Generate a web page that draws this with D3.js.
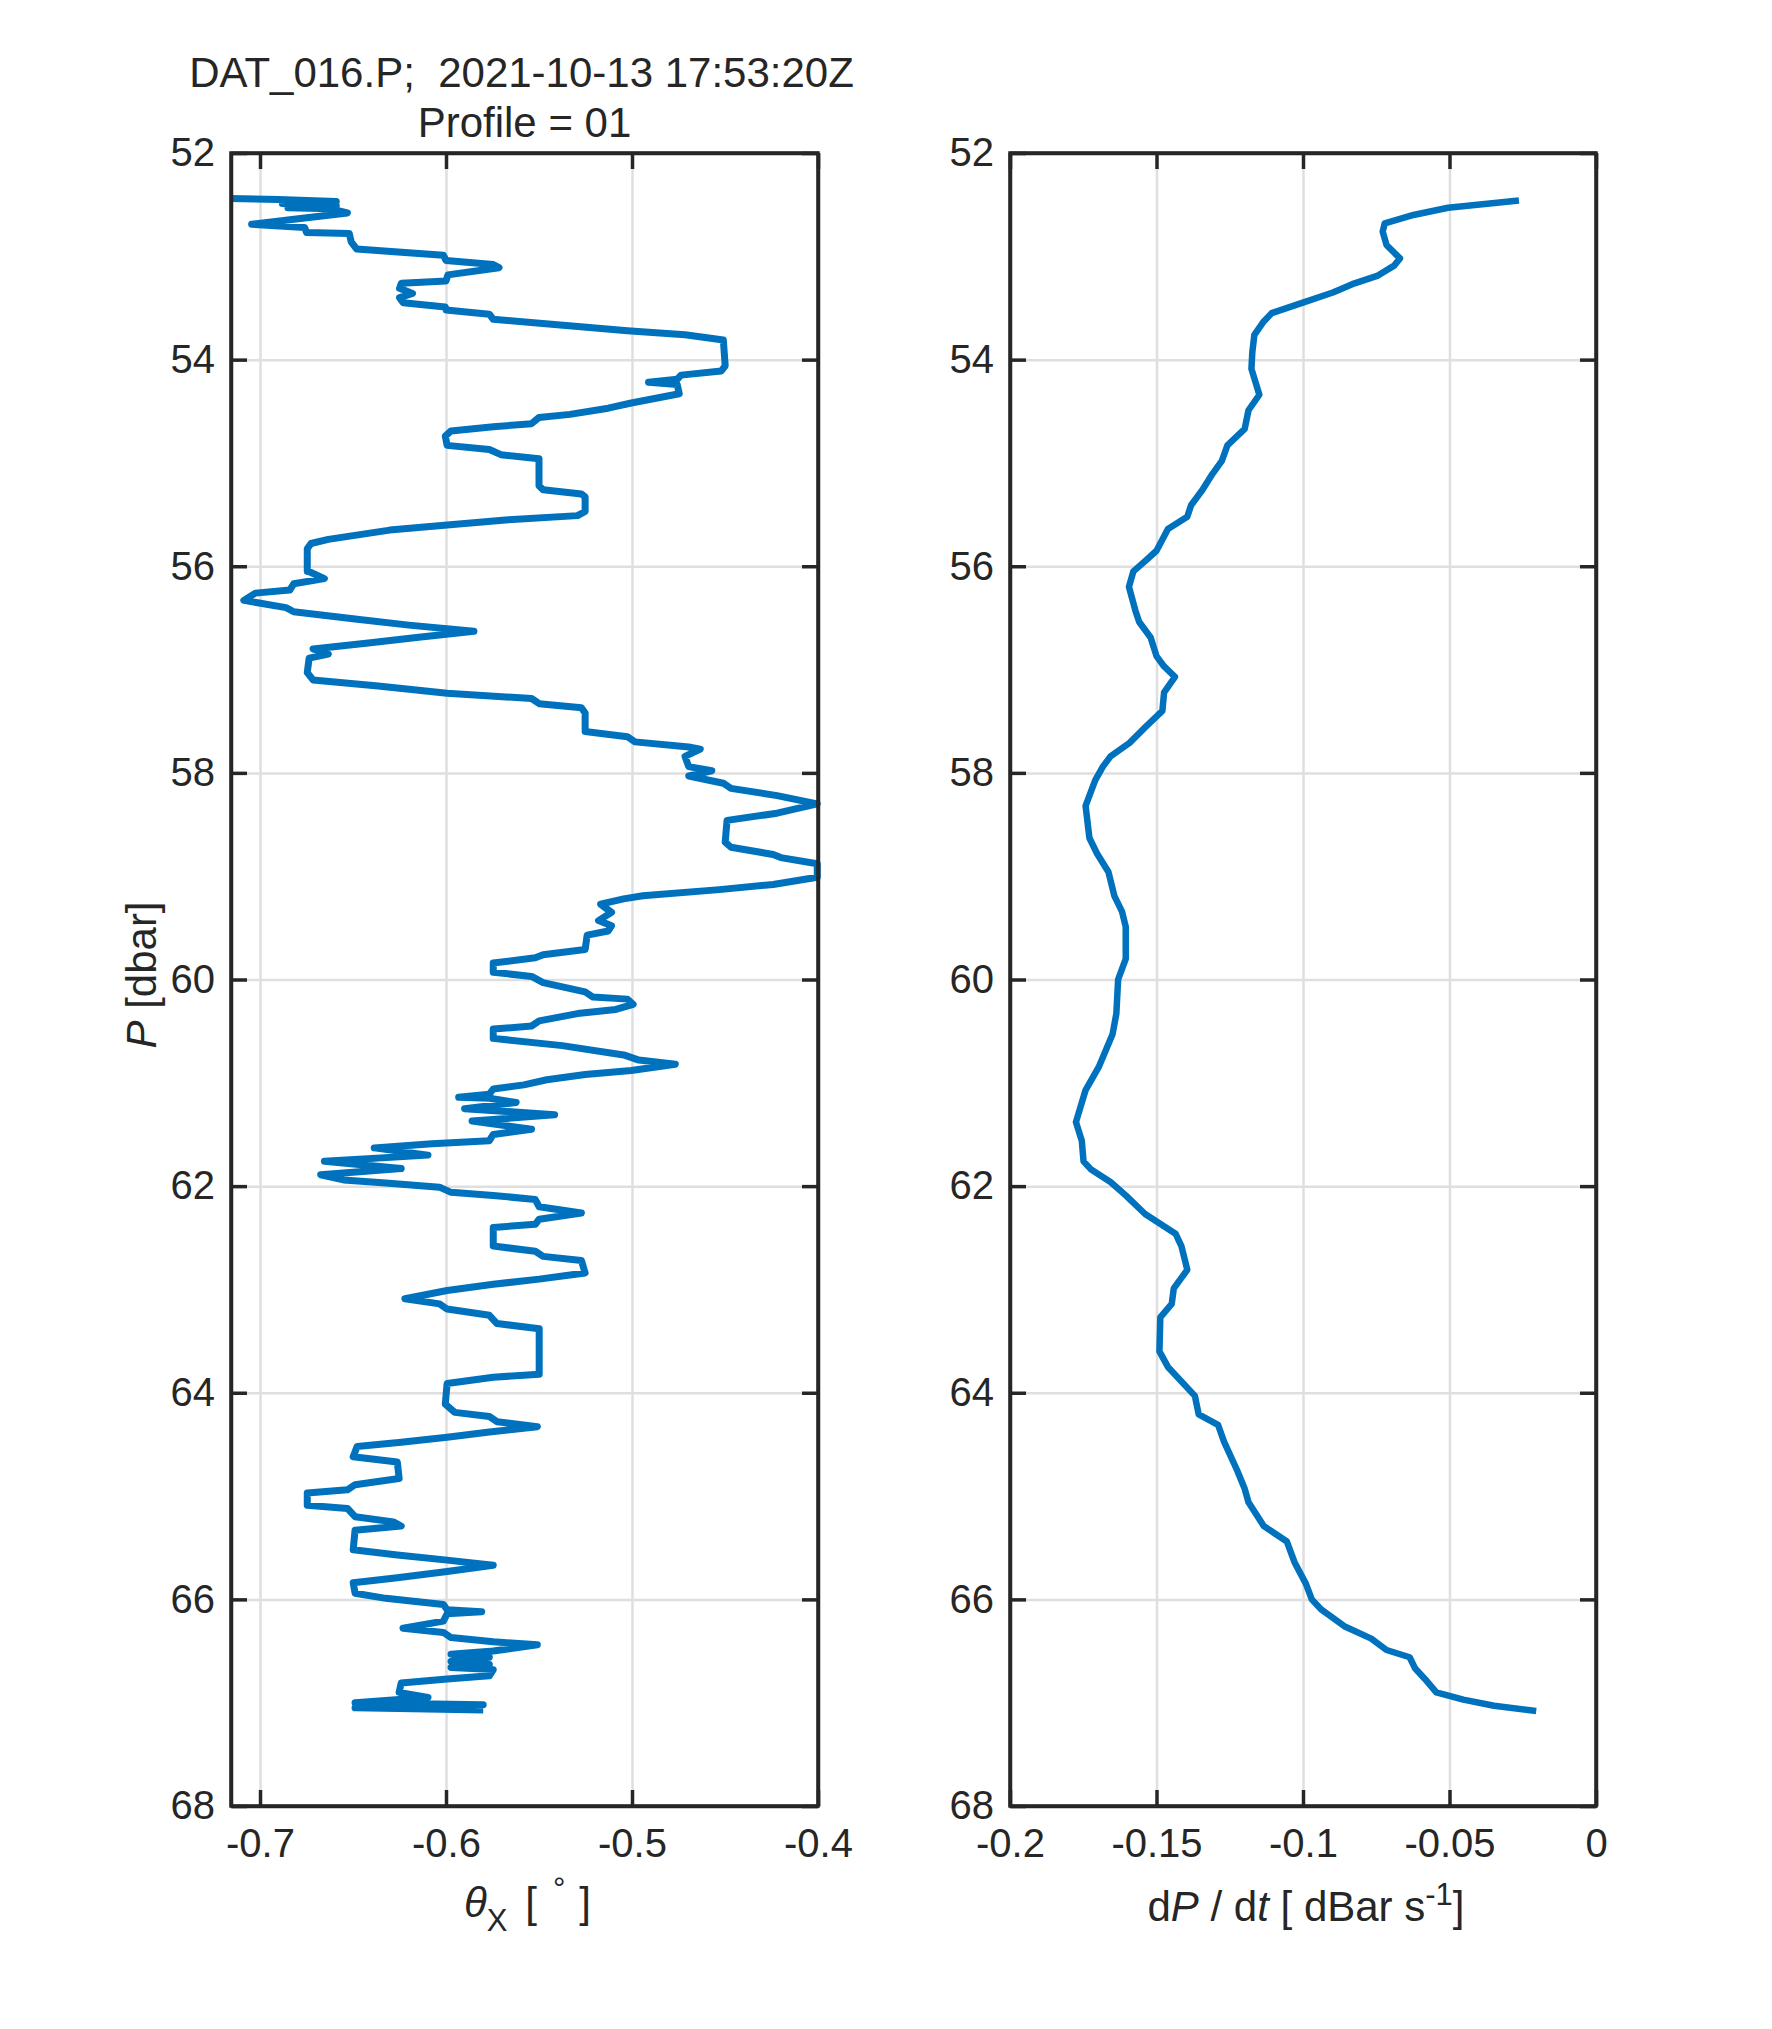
<!DOCTYPE html>
<html><head><meta charset="utf-8">
<script src="https://cdn.jsdelivr.net/npm/d3@7"></script>
<style>
html,body{margin:0;padding:0;background:#fff;}
text{font-family:"Liberation Sans",Arial,Helvetica,sans-serif;fill:#262626;}
</style></head>
<body>
<svg id="fig" width="1772" height="2029"></svg>
<script>
// ---- data ----
const titleLines = ["DAT_016.P;  2021-10-13 17:53:20Z", "Profile = 01"];
const pTicks = [52, 54, 56, 58, 60, 62, 64, 66, 68];
const thetaTicks = [-0.7, -0.6, -0.5, -0.4];
const thetaTickLabels = ["-0.7", "-0.6", "-0.5", "-0.4"];
const dpdtTicks = [-0.2, -0.15, -0.1, -0.05, 0];
const dpdtTickLabels = ["-0.2", "-0.15", "-0.1", "-0.05", "0"];

const thetaP = [52.44,52.45,52.47,52.49,52.51,52.53,52.54,52.58,52.63,52.69,52.72,52.77,52.78,52.86,52.93,52.99,53.04,53.08,53.11,53.18,53.24,53.26,53.31,53.36,53.40,53.45,53.49,53.52,53.56,53.61,53.65,53.72,53.76,53.81,54.06,54.11,54.15,54.19,54.22,54.24,54.33,54.42,54.47,54.53,54.56,54.62,54.65,54.69,54.74,54.83,54.87,54.92,54.96,55.01,55.22,55.26,55.30,55.33,55.47,55.51,55.55,55.60,55.65,55.74,55.78,55.83,56.05,56.06,56.12,56.17,56.23,56.26,56.33,56.40,56.44,56.51,56.57,56.63,56.69,56.74,56.80,56.85,56.89,57.03,57.10,57.16,57.23,57.28,57.33,57.37,57.42,57.60,57.65,57.70,57.75,57.77,57.84,57.94,57.98,58.03,58.10,58.15,58.22,58.30,58.39,58.46,58.67,58.72,58.79,58.82,58.88,59.01,59.08,59.13,59.19,59.22,59.27,59.35,59.43,59.48,59.53,59.57,59.71,59.76,59.79,59.84,59.93,59.97,60.03,60.12,60.17,60.19,60.24,60.29,60.33,60.40,60.45,60.48,60.57,60.64,60.73,60.78,60.82,60.88,60.92,60.97,61.02,61.06,61.11,61.14,61.15,61.19,61.25,61.31,61.37,61.45,61.50,61.56,61.59,61.63,61.70,61.76,61.83,61.89,61.94,61.97,62.01,62.06,62.09,62.13,62.20,62.26,62.32,62.37,62.40,62.58,62.63,62.68,62.72,62.84,62.90,62.95,63.01,63.09,63.14,63.19,63.25,63.33,63.38,63.82,63.85,63.91,64.11,64.19,64.23,64.28,64.33,64.38,64.43,64.48,64.52,64.62,64.67,64.83,64.89,64.94,64.97,65.09,65.12,65.20,65.25,65.29,65.33,65.52,65.57,65.62,65.67,65.73,65.79,65.84,65.94,65.99,66.05,66.10,66.12,66.14,66.21,66.28,66.32,66.37,66.41,66.44,66.50,66.53,66.56,66.60,66.63,66.66,66.68,66.74,66.77,66.81,66.90,66.95,66.97,67.00,67.02,67.05,67.07];
const thetaX = [-0.7159,-0.690,-0.659,-0.688,-0.659,-0.685,-0.662,-0.653,-0.676,-0.7045,-0.676,-0.675,-0.652,-0.651,-0.648,-0.6014,-0.600,-0.5746,-0.5715,-0.599,-0.600,-0.624,-0.625,-0.618,-0.625,-0.623,-0.6004,-0.600,-0.5767,-0.5746,-0.548,-0.5025,-0.4715,-0.4509,-0.4499,-0.4520,-0.4736,-0.4757,-0.4911,-0.4757,-0.4746,-0.5004,-0.5128,-0.5334,-0.5500,-0.5540,-0.5746,-0.5973,-0.6004,-0.5994,-0.5767,-0.5705,-0.5500,-0.5500,-0.5500,-0.5478,-0.5272,-0.5252,-0.5252,-0.5293,-0.5664,-0.5994,-0.6303,-0.6633,-0.6726,-0.6746,-0.6746,-0.6726,-0.6654,-0.6819,-0.6840,-0.7025,-0.7087,-0.6860,-0.6819,-0.6489,-0.6200,-0.5850,-0.6159,-0.6406,-0.6715,-0.6633,-0.6736,-0.6746,-0.6715,-0.6365,-0.5994,-0.5540,-0.5499,-0.5272,-0.5252,-0.5252,-0.5025,-0.4984,-0.4695,-0.4633,-0.4715,-0.4695,-0.4571,-0.4695,-0.4509,-0.4468,-0.4220,-0.4004,-0.4220,-0.4489,-0.4499,-0.4468,-0.4241,-0.4200,-0.4004,-0.4004,-0.4241,-0.4530,-0.4942,-0.5045,-0.5169,-0.5110,-0.5180,-0.5110,-0.5128,-0.5241,-0.5252,-0.5478,-0.5520,-0.5746,-0.5746,-0.5540,-0.5478,-0.5252,-0.5210,-0.5025,-0.4994,-0.5087,-0.5293,-0.5499,-0.5540,-0.5746,-0.5746,-0.5375,-0.5045,-0.4963,-0.4767,-0.5004,-0.5252,-0.5458,-0.5581,-0.5746,-0.5767,-0.5932,-0.5767,-0.5623,-0.5900,-0.5416,-0.5860,-0.5540,-0.5746,-0.5767,-0.6076,-0.6386,-0.6097,-0.6654,-0.6241,-0.6674,-0.6551,-0.6324,-0.6035,-0.5973,-0.5746,-0.5520,-0.5499,-0.5272,-0.5499,-0.5520,-0.5746,-0.5746,-0.5520,-0.5478,-0.5272,-0.5252,-0.5499,-0.5746,-0.5994,-0.6221,-0.6035,-0.5994,-0.5767,-0.5726,-0.5499,-0.5499,-0.5746,-0.5994,-0.6004,-0.5953,-0.5767,-0.5726,-0.5509,-0.5767,-0.5994,-0.6241,-0.6478,-0.6499,-0.6262,-0.6252,-0.6489,-0.6530,-0.6746,-0.6746,-0.6530,-0.6489,-0.6283,-0.6241,-0.6489,-0.6499,-0.6262,-0.5994,-0.5746,-0.5994,-0.6262,-0.6499,-0.6489,-0.6324,-0.6014,-0.5994,-0.5808,-0.5994,-0.6014,-0.6231,-0.6014,-0.5973,-0.5746,-0.5509,-0.5746,-0.5973,-0.5767,-0.5973,-0.5767,-0.5973,-0.5746,-0.5767,-0.5994,-0.6241,-0.6252,-0.6097,-0.6252,-0.6489,-0.5800,-0.6489,-0.5800];

const dpdtP = [52.46,52.53,52.60,52.68,52.76,52.89,53.02,53.09,53.19,53.27,53.35,53.45,53.55,53.63,53.76,53.93,54.09,54.34,54.49,54.67,54.83,54.98,55.11,55.26,55.41,55.52,55.64,55.85,55.95,56.05,56.20,56.43,56.54,56.69,56.87,56.97,57.07,57.22,57.40,57.56,57.71,57.84,57.94,58.07,58.32,58.63,58.78,58.96,59.19,59.34,59.49,59.80,60.00,60.33,60.53,60.84,61.07,61.38,61.56,61.76,61.84,61.96,62.09,62.27,62.46,62.58,62.81,62.99,63.14,63.27,63.60,63.75,64.03,64.21,64.31,64.47,64.75,64.93,65.06,65.29,65.44,65.64,65.85,66.00,66.10,66.26,66.38,66.49,66.56,66.67,66.77,66.90,66.97,67.03,67.08];
const dpdtV = [-0.0263,-0.0505,-0.0623,-0.0721,-0.0728,-0.0715,-0.0669,-0.0689,-0.0747,-0.0832,-0.0898,-0.1003,-0.1107,-0.1134,-0.1166,-0.1173,-0.1176,-0.1149,-0.1186,-0.1199,-0.1258,-0.1277,-0.1310,-0.1343,-0.1382,-0.1395,-0.1461,-0.1500,-0.1539,-0.1579,-0.1594,-0.1572,-0.1559,-0.1520,-0.1500,-0.1474,-0.1437,-0.1474,-0.1480,-0.1539,-0.1592,-0.1657,-0.1683,-0.1709,-0.1742,-0.1729,-0.1703,-0.1664,-0.1644,-0.1618,-0.1605,-0.1605,-0.1631,-0.1637,-0.1650,-0.1696,-0.1742,-0.1775,-0.1755,-0.1749,-0.1723,-0.1657,-0.1605,-0.1539,-0.1435,-0.1415,-0.1395,-0.1441,-0.1448,-0.1487,-0.1490,-0.1461,-0.1369,-0.1356,-0.1290,-0.1270,-0.1225,-0.1199,-0.1186,-0.1134,-0.1055,-0.1029,-0.0990,-0.0970,-0.0937,-0.0859,-0.0767,-0.0715,-0.0636,-0.0617,-0.0584,-0.0545,-0.0453,-0.0348,-0.0204];

// ---- layout ----
const svg = d3.select("#fig");
const yTop = 153, yBot = 1806;
const axCol = "#262626", gridCol = "#dfdfdf", lineCol = "#0072BD";
const FS = 40, FL = 42;

function panel(x0, x1, xDomain, xTicks, xLabels, xs, ys, lw) {
  const x = d3.scaleLinear().domain(xDomain).range([x0, x1]);
  const y = d3.scaleLinear().domain([52, 68]).range([yTop, yBot]);
  const g = svg.append("g");
  // grid
  g.append("g").attr("transform", `translate(0,${yBot})`)
    .call(d3.axisBottom(x).tickValues(xTicks).tickSize(-(yBot - yTop)).tickFormat(""))
    .call(s => { s.select(".domain").remove(); s.selectAll("line").attr("stroke", gridCol).attr("stroke-width", 2.5); });
  g.append("g").attr("transform", `translate(${x0},0)`)
    .call(d3.axisLeft(y).tickValues(pTicks).tickSize(-(x1 - x0)).tickFormat(""))
    .call(s => { s.select(".domain").remove(); s.selectAll("line").attr("stroke", gridCol).attr("stroke-width", 2.5); });
  // data line
  const pts = xs.map((v, i) => [v, ys[i]]);
  g.append("path").datum(pts)
    .attr("fill", "none").attr("stroke", lineCol).attr("stroke-width", lw)
    .attr("stroke-linejoin", "round").attr("stroke-linecap", "butt")
    .attr("d", d3.line().x(d => x(d[0])).y(d => y(d[1])));
  // axes (box with inward ticks)
  const styleAx = s => {
    s.select(".domain").attr("stroke", axCol).attr("stroke-width", 3.5);
    s.selectAll(".tick line").attr("stroke", axCol).attr("stroke-width", 3.5);
    s.selectAll(".tick text").attr("font-size", FS).attr("fill", axCol)
      .attr("font-family", '"Liberation Sans", Arial, Helvetica, sans-serif');
  };
  g.append("g").attr("transform", `translate(0,${yBot})`)
    .call(d3.axisBottom(x).tickValues(xTicks).tickSizeInner(-16).tickSizeOuter(0).tickPadding(23)
      .tickFormat((d, i) => xLabels[i])).call(styleAx);
  g.append("g").attr("transform", `translate(0,${yTop})`)
    .call(d3.axisTop(x).tickValues(xTicks).tickSizeInner(-16).tickSizeOuter(0).tickFormat("")).call(styleAx);
  g.append("g").attr("transform", `translate(${x0},0)`)
    .call(d3.axisLeft(y).tickValues(pTicks).tickSizeInner(-16).tickSizeOuter(0).tickPadding(16)).call(styleAx);
  g.append("g").attr("transform", `translate(${x1},0)`)
    .call(d3.axisRight(y).tickValues(pTicks).tickSizeInner(-16).tickSizeOuter(0).tickFormat("")).call(styleAx);
  g.append("rect").attr("x", x0).attr("y", yTop).attr("width", x1 - x0).attr("height", yBot - yTop)
    .attr("fill", "none").attr("stroke", axCol).attr("stroke-width", 3.5);
  return { x, y };
}

const L = panel(231, 818, [-0.7156, -0.4], thetaTicks, thetaTickLabels, thetaX, thetaP, 7);
const R = panel(1010, 1596, [-0.2, 0], dpdtTicks, dpdtTickLabels, dpdtV, dpdtP, 6.5);

// title
const tcx = (231 + 818) / 2;
svg.append("text").attr("x", tcx - 3).attr("y", 87).attr("text-anchor", "middle").attr("font-size", FL)
  .attr("xml:space", "preserve").style("white-space", "pre").text(titleLines[0]);
svg.append("text").attr("x", tcx).attr("y", 137).attr("text-anchor", "middle").attr("font-size", FL).text(titleLines[1]);

// y label
const yl = svg.append("text").attr("transform", `translate(156,975) rotate(-90)`)
  .attr("text-anchor", "middle").attr("font-size", FL);
yl.append("tspan").attr("font-style", "italic").text("P");
yl.append("tspan").text(" [dbar]");

// x label left: theta_X [ ° ]
const xl = svg.append("text").attr("x", tcx + 3).attr("y", 1917).attr("text-anchor", "middle")
  .attr("font-size", FL).attr("xml:space", "preserve").style("white-space", "pre");
xl.append("tspan").attr("font-style", "italic").text("θ");
xl.append("tspan").attr("font-size", 31).attr("dy", 14).text("X");
xl.append("tspan").attr("dy", -14).attr("dx", 6).text(" [");
xl.append("tspan").attr("font-size", 31).attr("dy", -18).attr("dx", 16).text("°");
xl.append("tspan").attr("dy", 18).attr("dx", 14).text("]");

// x label right: dP / dt [ dBar s^-1 ]
const xr = svg.append("text").attr("x", (1010 + 1596) / 2 + 3).attr("y", 1921).attr("text-anchor", "middle")
  .attr("font-size", FL).attr("xml:space", "preserve").style("white-space", "pre");
xr.append("tspan").text("d");
xr.append("tspan").attr("font-style", "italic").text("P");
xr.append("tspan").text(" / d");
xr.append("tspan").attr("font-style", "italic").text("t");
xr.append("tspan").text(" [ dBar s");
xr.append("tspan").attr("font-size", 31).attr("dy", -16).text("-1");
xr.append("tspan").attr("dy", 16).text("]");
</script>
</body></html>
